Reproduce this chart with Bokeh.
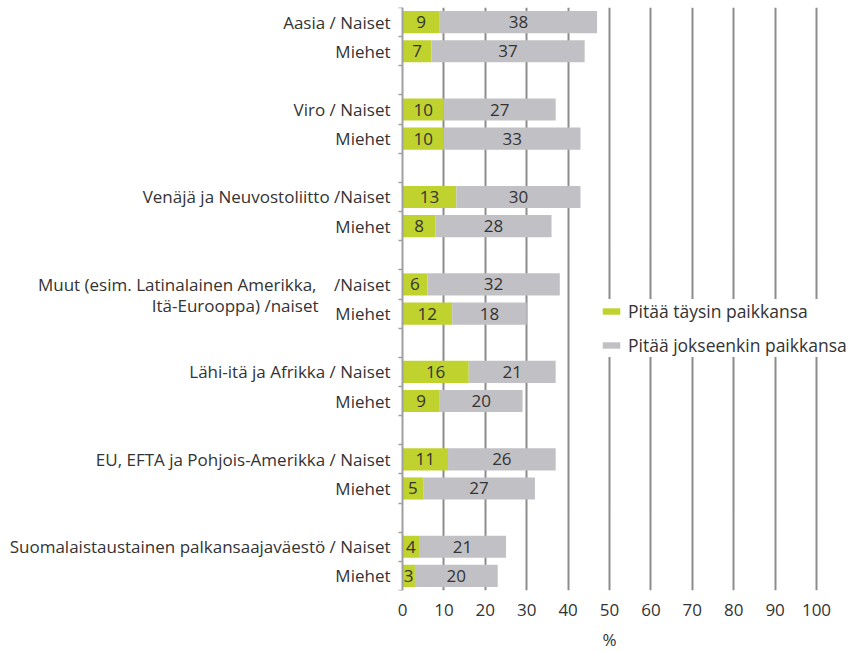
from bokeh.plotting import figure
from bokeh.models import FixedTicker, Range1d, ColumnDataSource, LinearAxis
from bokeh.core.properties import value
from bokeh.embed import file_html
from bokeh.resources import INLINE

# ---- data ----
row_labels = [
    "Aasia / Naiset", "Miehet",
    "Viro / Naiset", "Miehet",
    "Venäjä ja Neuvostoliitto /Naiset", "Miehet",
    "/Naiset", "Miehet",
    "Lähi-itä ja Afrikka / Naiset", "Miehet",
    "EU, EFTA ja Pohjois-Amerikka / Naiset", "Miehet",
    "Suomalaistaustainen palkansaajaväestö / Naiset", "Miehet",
]
muut_line1 = "Muut (esim. Latinalainen Amerikka,"
muut_line2 = "Itä-Eurooppa) /naiset"
full = [9, 7, 10, 10, 13, 8, 6, 12, 16, 9, 11, 5, 4, 3]
partly = [38, 37, 27, 33, 30, 28, 32, 18, 21, 20, 26, 27, 21, 20]
series_names = ["Pitää täysin paikkansa", "Pitää jokseenkin paikkansa"]
x_ticks = [0, 10, 20, 30, 40, 50, 60, 70, 80, 90, 100]
x_title = "%"

GREEN = "#C0D22E"
GRAY = "#C1C1C5"
TEXT = "#333333"
FONT = "Open Sans"

# row positions: 3 slots per group (Naiset, Miehet, gap)
ypos = [3 * (i // 2) + (i % 2) for i in range(len(full))]
n_slots = 3 * (len(full) // 2) - 1

src = ColumnDataSource(dict(
    y=ypos, full=full, partly=partly,
    mid_full=[f / 2 for f in full],
    mid_partly=[f + q / 2 for f, q in zip(full, partly)],
    t_full=[str(f) for f in full],
    t_partly=[str(q) for q in partly],
))
lab_src = ColumnDataSource(dict(x=[0] * len(ypos), y=ypos, text=row_labels))

PX = 4.14          # screen px per percent unit
LEFT = 8           # frame left edge (canvas px)
ZERO = 402         # canvas x of value 0
FW, FH = 843, 583  # frame size
p = figure(frame_width=FW, frame_height=FH, output_backend="svg",
           toolbar_location=None,
           x_range=Range1d(-(ZERO - LEFT) / PX, (LEFT + FW - ZERO) / PX),
           y_range=Range1d(n_slots - 0.5, -0.5),
           y_axis_location=None,
           min_border_left=LEFT, min_border_right=0, min_border_top=7,
           min_border_bottom=0)
p.outline_line_color = None
p.background_fill_color = "white"

# grid
p.ygrid.grid_line_color = None
p.xgrid.ticker = FixedTicker(ticks=x_ticks[1:])
p.xgrid.grid_line_color = "#8C8C8C"
p.xgrid.grid_line_width = 2

# bars
p.hbar_stack(["full", "partly"], y="y", height=0.76, source=src,
             fill_color=[GREEN, GRAY], line_color=None,
             legend_label=series_names)

# value labels
for xcol, tcol in (("mid_full", "t_full"), ("mid_partly", "t_partly")):
    p.text(x=xcol, y="y", text=tcol, source=src, text_align="center",
           text_baseline="middle", text_font=value(FONT),
           text_font_size="17px", text_color=TEXT)

# row labels
p.text(x="x", y="y", text="text", source=lab_src, x_offset=-12,
       text_align="right", text_baseline="middle", text_font=value(FONT),
       text_font_size="17px", text_color=TEXT)
muut_y = ypos[6]
p.text(x=[0], y=[muut_y], text=[muut_line1], x_offset=-86,
       text_align="right", text_baseline="middle", text_font=value(FONT),
       text_font_size="17px", text_color=TEXT)
p.text(x=[0], y=[muut_y + 0.72], text=[muut_line2], x_offset=-84,
       text_align="right", text_baseline="middle", text_font=value(FONT),
       text_font_size="17px", text_color=TEXT)

# x axis
xa = p.xaxis[0]
xa.ticker = FixedTicker(ticks=x_ticks)
xa.axis_line_color = None
xa.major_tick_line_color = None
xa.minor_tick_line_color = None
xa.major_label_text_font = FONT
xa.major_label_text_font_size = "17px"
xa.major_label_text_color = TEXT
xa.major_label_standoff = 7

# "%" title centred under 0..100 (second axis with one labelled tick)
mid = (x_ticks[0] + x_ticks[-1]) / 2
xa2 = LinearAxis(ticker=FixedTicker(ticks=[mid]),
                 major_label_overrides={mid: x_title})
xa2.axis_line_color = None
xa2.major_tick_line_color = None
xa2.minor_tick_line_color = None
xa2.major_label_text_font = FONT
xa2.major_label_text_font_size = "17px"
xa2.major_label_text_color = TEXT
xa2.major_label_standoff = 3
p.add_layout(xa2, "below")

# y axis at x = 0 with tick marks at slot boundaries
ya = LinearAxis(fixed_location=0,
                ticker=FixedTicker(ticks=[],
                                   minor_ticks=[k - 0.5 for k in range(n_slots + 1)]))
ya.axis_line_color = "#A0A0A0"
ya.axis_line_width = 2
ya.major_tick_line_color = None
ya.minor_tick_line_color = "#A0A0A0"
ya.minor_tick_line_width = 1.5
ya.minor_tick_out = 4
ya.minor_tick_in = 0
ya.major_label_standoff = 0
p.add_layout(ya, "left")

# legend
lg = p.legend[0]
lg.location = (592, 233)
lg.border_line_color = None
lg.background_fill_color = "white"
lg.background_fill_alpha = 1.0
lg.padding = 7
lg.margin = 0
lg.spacing = 10
lg.glyph_width = 22
lg.glyph_height = 8
lg.label_height = 22
lg.label_standoff = 6
lg.label_text_font = FONT
lg.label_text_font_size = "17.5px"
lg.label_text_color = TEXT

open("out.html", "w").write(file_html(p, INLINE))
